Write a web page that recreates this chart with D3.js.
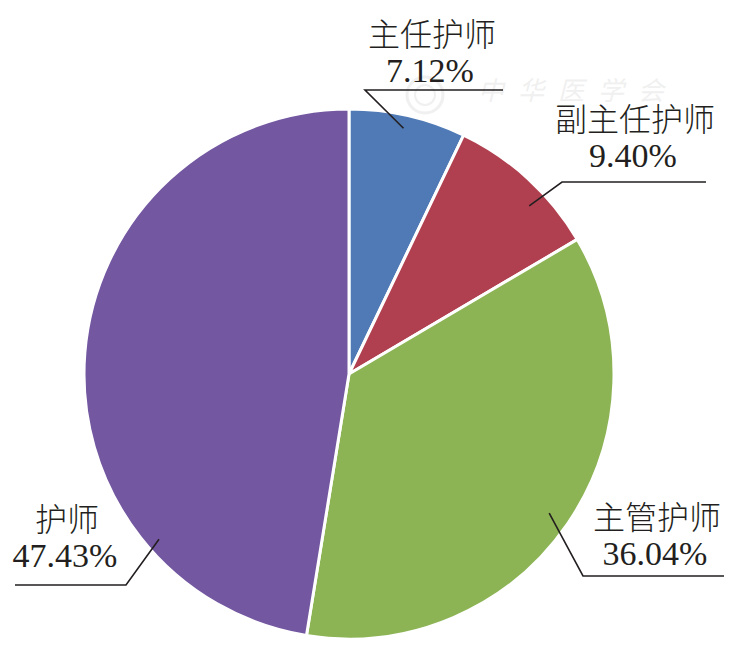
<!DOCTYPE html>
<html>
<head>
<meta charset="utf-8">
<script src="https://cdn.jsdelivr.net/npm/d3@7"></script>
<style>
  body { margin: 0; background: #fff; }
  text { font-family: "Liberation Serif", "Noto Sans CJK SC", serif; fill: #231f20; }
</style>
</head>
<body>
<div id="chart"></div>
<script>
// data
var categories = ['主任护师', '副主任护师', '主管护师', '护师'];
var values = [7.12, 9.40, 36.04, 47.43];
var colors = ['#4f7ab6', '#b0404f', '#8cb354', '#7357a0'];

var width = 735, height = 649;
var cx = 349, cy = 374, radius = 265;

// label placement: text centre, leader start (angle in deg, fraction of radius), elbow and end
var labelLayout = [
  { tx: 432, ty: 46, line: [[365, 90], [503, 90]], start: [12.5, 0.95] },
  { tx: 635, ty: 131, line: [[562, 182], [706, 182]], start: [47, 0.93] },
  { tx: 657, ty: 529, line: [[583, 576], [724, 576]], start: [124.8, 0.92] },
  { tx: 67, ty: 531, line: [[126, 585], [15, 585]], start: [229, 0.95] }
];

var svg = d3.select('#chart')
  .append('svg')
  .attr('width', width)
  .attr('height', height);

// faint watermark
var wm = svg.append('g').attr('opacity', 0.12);
wm.append('circle').attr('cx', 425).attr('cy', 95).attr('r', 18)
  .attr('fill', 'none').attr('stroke', '#888').attr('stroke-width', 3);
wm.append('circle').attr('cx', 425).attr('cy', 95).attr('r', 10)
  .attr('fill', 'none').attr('stroke', '#888').attr('stroke-width', 2);
wm.append('text').attr('x', 478).attr('y', 100)
  .style('font-size', '26px').style('font-style', 'italic').style('fill', '#888')
  .style('letter-spacing', '14px')
  .text('中华医学会');

var pie = d3.pie().sort(null).value(function(d) { return d; });
var arc = d3.arc().innerRadius(0).outerRadius(radius);
var arcs = pie(values);

var g = svg.append('g').attr('transform', 'translate(' + cx + ',' + cy + ')');

g.selectAll('path')
  .data(arcs)
  .enter().append('path')
    .attr('d', arc)
    .attr('fill', function(d, i) { return colors[i]; })
    .attr('stroke', '#fff')
    .attr('stroke-width', 3)
    .attr('stroke-linejoin', 'round');

// labels with leader lines
labelLayout.forEach(function(l, i) {
  var a = l.start[0] * Math.PI / 180;
  var r = l.start[1] * radius;
  var sx = cx + r * Math.sin(a);
  var sy = cy - r * Math.cos(a);
  var pts = [[sx, sy]].concat(l.line);

  svg.append('path')
    .attr('d', d3.line()(pts))
    .attr('fill', 'none')
    .attr('stroke', '#231f20')
    .attr('stroke-width', 1.6);

  svg.append('text')
    .attr('x', l.tx).attr('y', l.ty)
    .attr('text-anchor', 'middle')
    .style('font-size', '32px')
    .style('font-weight', '300')
    .text(categories[i]);

  svg.append('text')
    .attr('x', l.tx - 2).attr('y', l.ty + 36)
    .attr('text-anchor', 'middle')
    .style('font-size', '34px')
    .text(values[i].toFixed(2) + '%');
});
</script>
</body>
</html>
